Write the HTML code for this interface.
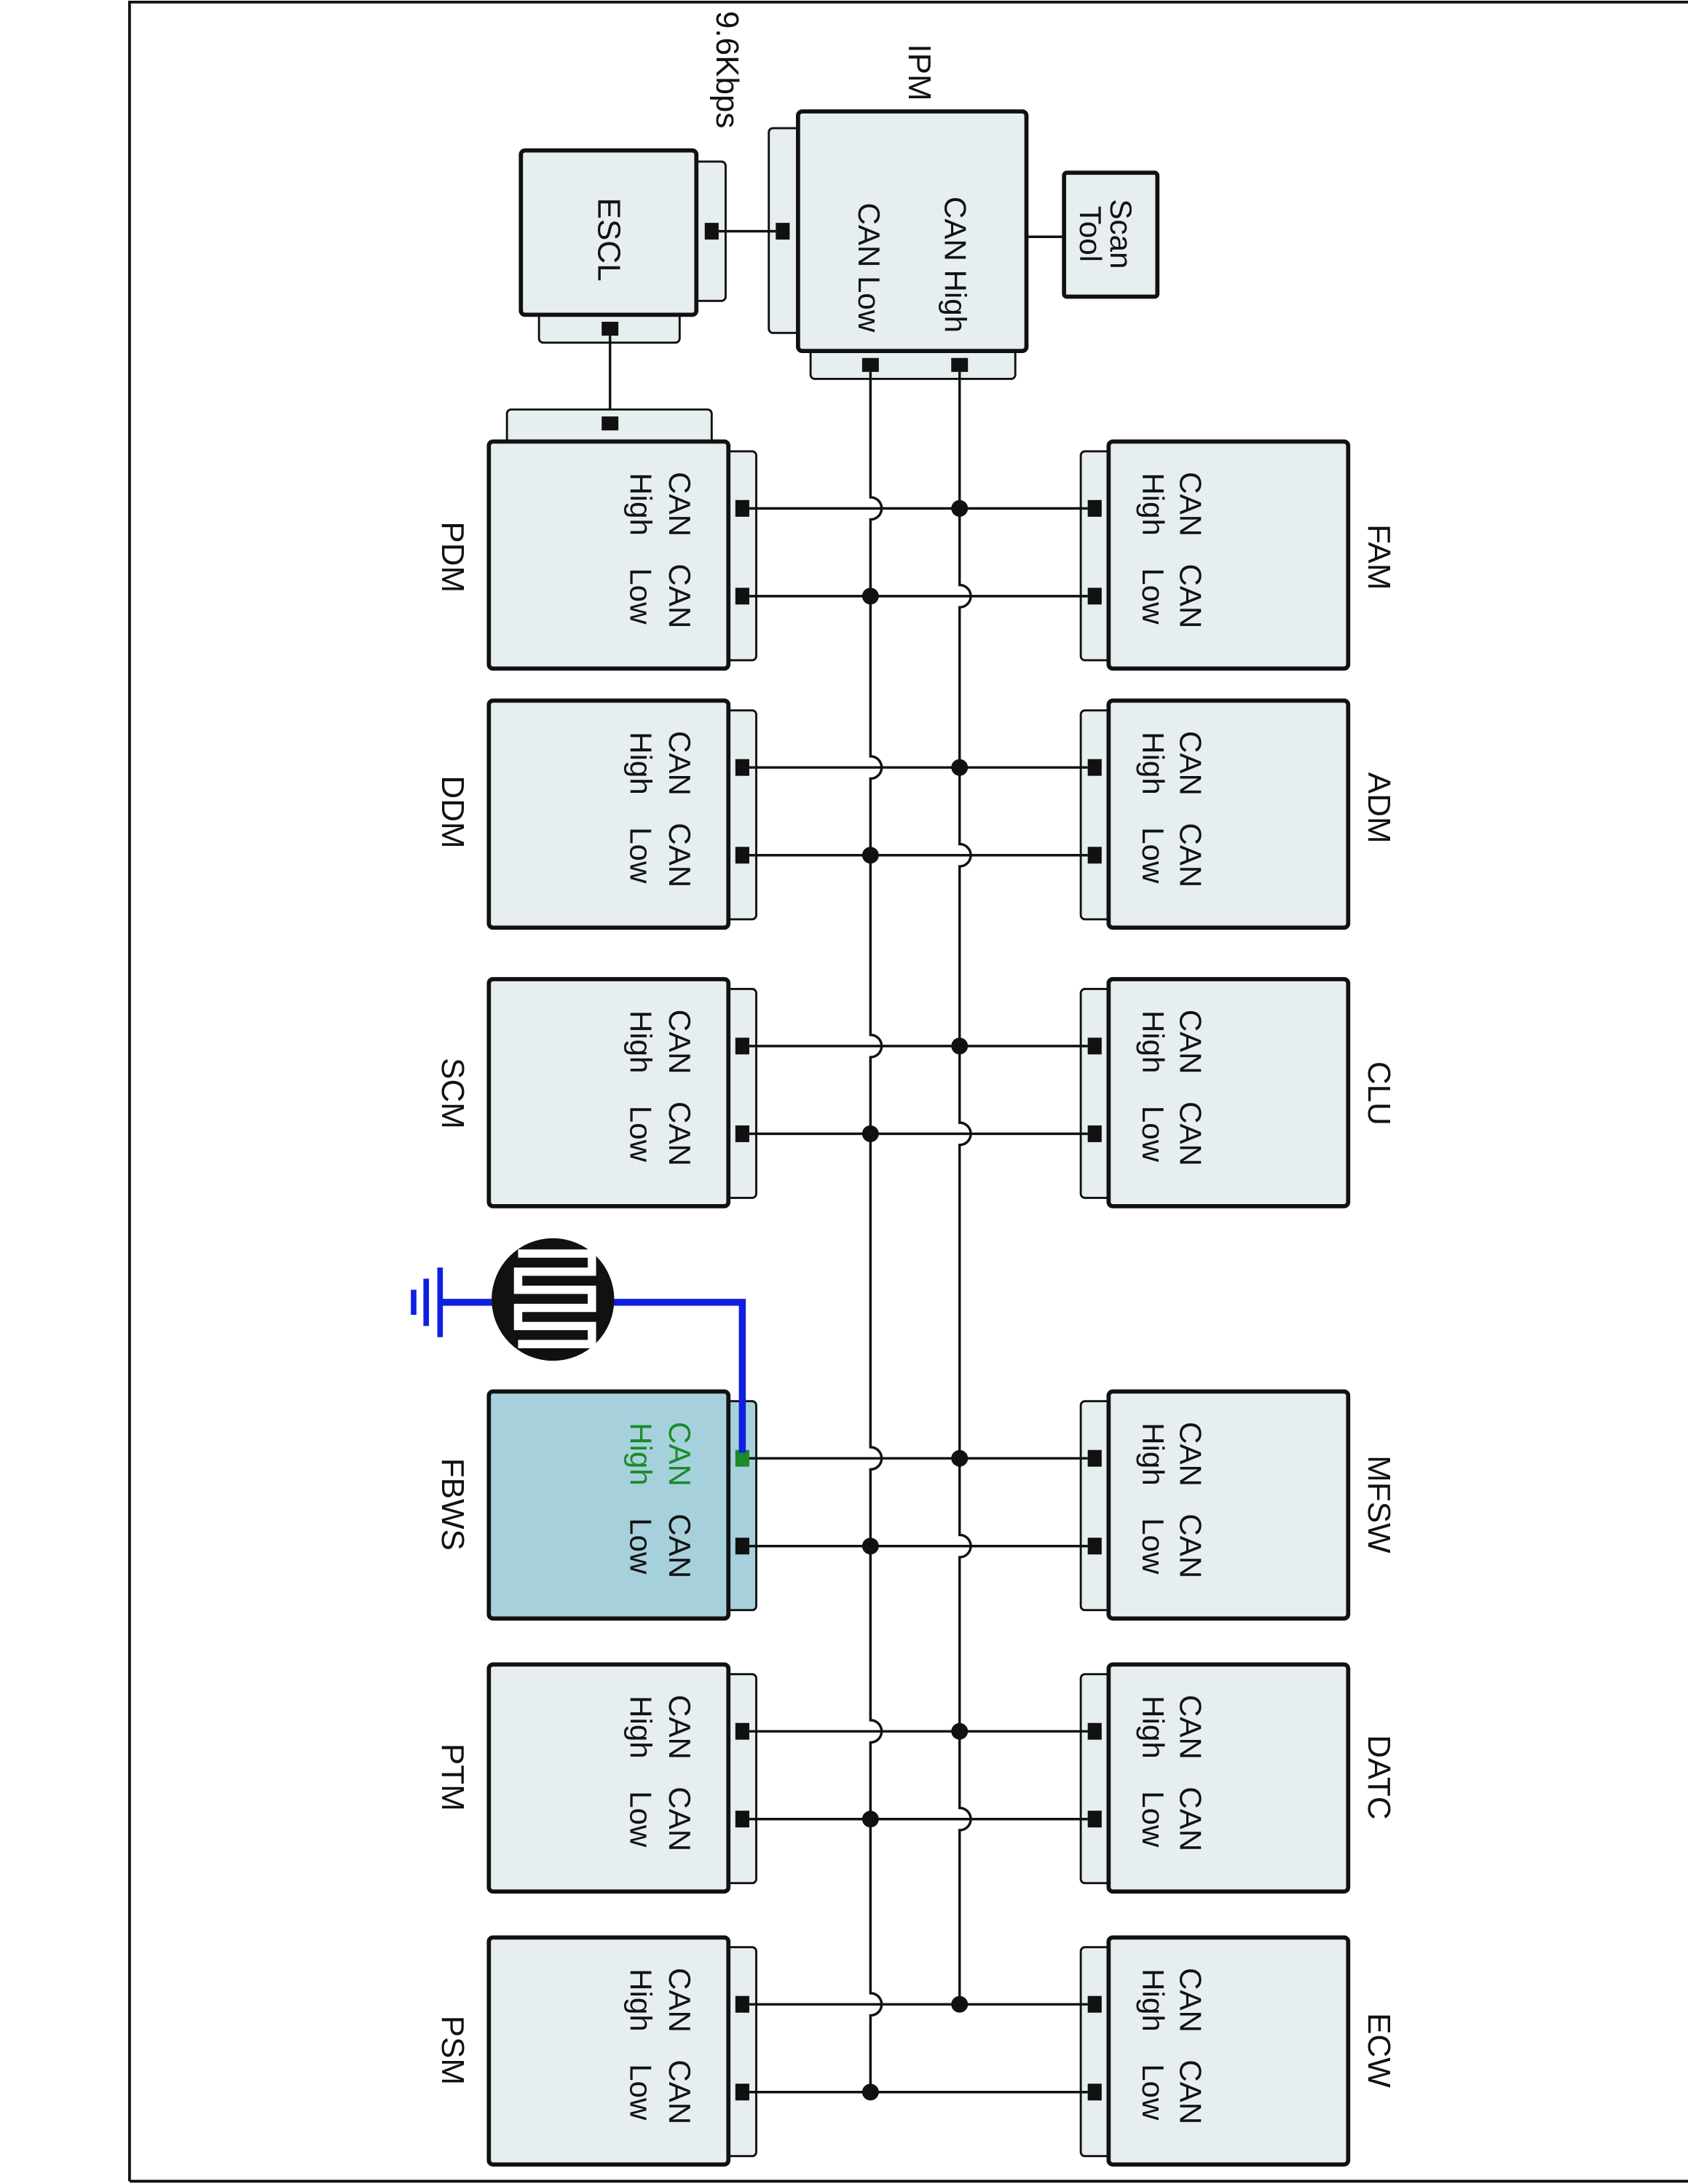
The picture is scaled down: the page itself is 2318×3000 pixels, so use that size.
<!DOCTYPE html>
<html><head><meta charset="utf-8"><style>
html,body{margin:0;padding:0;background:#fff}
svg{display:block}
text{font-family:"Liberation Sans",Arial,sans-serif;font-size:22px;fill:#111}
.m{fill:#e6eef0;stroke:#111;stroke-width:3}
.t{fill:#e6eef0;stroke:#111;stroke-width:1.5}
.c{fill:#111}
.w{stroke:#111;stroke-width:1.8;fill:none}
.n{font-size:23px}
</style></head><body>
<svg width="2318" height="3000" viewBox="0 0 1212 1568" preserveAspectRatio="none" xmlns="http://www.w3.org/2000/svg">
<rect x="0" y="0" width="1212" height="1568" fill="#fff"/>
<path d="M93 1566 V1.5 H1212" fill="none" stroke="#111" stroke-width="2"/>
<line x1="93" y1="1566" x2="1212" y2="1566" stroke="#111" stroke-width="2"/>

<rect class="t" x="552" y="92" width="24" height="147" rx="3"/>
<rect class="t" x="582" y="248" width="147" height="24" rx="3"/>
<rect class="m" x="573" y="80" width="164" height="172" rx="3"/>
<rect class="c" x="557" y="160" width="10" height="12"/>
<rect class="c" x="619" y="257" width="12" height="10"/>
<rect class="c" x="683" y="257" width="12" height="10"/>
<text transform="rotate(90 686 190)" x="686" y="190" text-anchor="middle" dominant-baseline="central">CAN High</text>
<text transform="rotate(90 624 192)" x="624" y="192" text-anchor="middle" dominant-baseline="central">CAN Low</text>
<text class="n" transform="rotate(90 660 52)" x="660" y="52" text-anchor="middle" dominant-baseline="central">IPM</text>
<text class="n" transform="rotate(90 522 50)" x="522" y="50" text-anchor="middle" dominant-baseline="central">9.6Kbps</text>
<line class="w" x1="737" y1="170" x2="764" y2="170"/>
<rect class="m" x="764" y="124" width="67" height="89" rx="2"/>
<text transform="rotate(90 805 168)" x="805" y="168" text-anchor="middle" dominant-baseline="central">Scan</text>
<text transform="rotate(90 783 168)" x="783" y="168" text-anchor="middle" dominant-baseline="central">Tool</text>
<rect class="t" x="496" y="116" width="25" height="100" rx="3"/>
<rect class="t" x="387" y="222" width="101" height="24" rx="3"/>
<rect class="m" x="374" y="108" width="126" height="118" rx="3"/>
<rect class="c" x="506" y="160" width="10" height="12"/>
<rect class="c" x="432" y="231" width="12" height="10"/>
<line class="w" x1="516" y1="166" x2="557" y2="166"/>
<line class="w" x1="438" y1="241" x2="438" y2="300"/>
<text class="n" transform="rotate(90 437 172)" x="437" y="172" text-anchor="middle" dominant-baseline="central">ESCL</text>
<rect class="t" x="364" y="294" width="147" height="27" rx="3"/>
<rect class="c" x="432" y="299" width="12" height="10"/>

<path class="w" d="M625 267 V357 A8 8 0 0 1 625 373 V543 A8 8 0 0 1 625 559 V743 A8 8 0 0 1 625 759 V1039 A8 8 0 0 1 625 1055 V1235 A8 8 0 0 1 625 1251 V1431 A8 8 0 0 1 625 1447 V1505"/>
<path class="w" d="M689 267 V420 A8 8 0 0 1 689 436 V606 A8 8 0 0 1 689 622 V806 A8 8 0 0 1 689 822 V1102 A8 8 0 0 1 689 1118 V1298 A8 8 0 0 1 689 1314 V1440"/>

<g>
<rect class="t" x="519" y="324" width="24" height="150" rx="3"/>
<rect class="m" x="351" y="317" width="172" height="163" rx="3"/>
<rect class="c" x="528" y="359" width="10" height="12"/><rect class="c" x="528" y="422" width="10" height="12"/>
<text transform="rotate(90 488 362)" x="488" y="362" text-anchor="middle" dominant-baseline="central">CAN</text>
<text transform="rotate(90 460 362)" x="460" y="362" text-anchor="middle" dominant-baseline="central">High</text>
<text transform="rotate(90 488 428)" x="488" y="428" text-anchor="middle" dominant-baseline="central">CAN</text>
<text transform="rotate(90 460 428)" x="460" y="428" text-anchor="middle" dominant-baseline="central">Low</text>
<text class="n" transform="rotate(90 325 400)" x="325" y="400" text-anchor="middle" dominant-baseline="central">PDM</text>
</g>
<g>
<rect class="t" x="519" y="510" width="24" height="150" rx="3"/>
<rect class="m" x="351" y="503" width="172" height="163" rx="3"/>
<rect class="c" x="528" y="545" width="10" height="12"/><rect class="c" x="528" y="608" width="10" height="12"/>
<text transform="rotate(90 488 548)" x="488" y="548" text-anchor="middle" dominant-baseline="central">CAN</text>
<text transform="rotate(90 460 548)" x="460" y="548" text-anchor="middle" dominant-baseline="central">High</text>
<text transform="rotate(90 488 614)" x="488" y="614" text-anchor="middle" dominant-baseline="central">CAN</text>
<text transform="rotate(90 460 614)" x="460" y="614" text-anchor="middle" dominant-baseline="central">Low</text>
<text class="n" transform="rotate(90 325 583)" x="325" y="583" text-anchor="middle" dominant-baseline="central">DDM</text>
</g>
<g>
<rect class="t" x="519" y="710" width="24" height="150" rx="3"/>
<rect class="m" x="351" y="703" width="172" height="163" rx="3"/>
<rect class="c" x="528" y="745" width="10" height="12"/><rect class="c" x="528" y="808" width="10" height="12"/>
<text transform="rotate(90 488 748)" x="488" y="748" text-anchor="middle" dominant-baseline="central">CAN</text>
<text transform="rotate(90 460 748)" x="460" y="748" text-anchor="middle" dominant-baseline="central">High</text>
<text transform="rotate(90 488 814)" x="488" y="814" text-anchor="middle" dominant-baseline="central">CAN</text>
<text transform="rotate(90 460 814)" x="460" y="814" text-anchor="middle" dominant-baseline="central">Low</text>
<text class="n" transform="rotate(90 325 785)" x="325" y="785" text-anchor="middle" dominant-baseline="central">SCM</text>
</g>
<g>
<rect class="t" x="519" y="1006" width="24" height="150" rx="3" style="fill:#a6d1dc"/>
<rect class="m" x="351" y="999" width="172" height="163" rx="3" style="fill:#a6d1dc"/>
<rect x="528" y="1041" width="10" height="12" fill="#1a8a2a"/><rect class="c" x="528" y="1104" width="10" height="12"/>
<text style="fill:#1a8a2a" transform="rotate(90 488 1044)" x="488" y="1044" text-anchor="middle" dominant-baseline="central">CAN</text>
<text style="fill:#1a8a2a" transform="rotate(90 460 1044)" x="460" y="1044" text-anchor="middle" dominant-baseline="central">High</text>
<text transform="rotate(90 488 1110)" x="488" y="1110" text-anchor="middle" dominant-baseline="central">CAN</text>
<text transform="rotate(90 460 1110)" x="460" y="1110" text-anchor="middle" dominant-baseline="central">Low</text>
<text class="n" transform="rotate(90 325 1080)" x="325" y="1080" text-anchor="middle" dominant-baseline="central">FBWS</text>
</g>
<g>
<rect class="t" x="519" y="1202" width="24" height="150" rx="3"/>
<rect class="m" x="351" y="1195" width="172" height="163" rx="3"/>
<rect class="c" x="528" y="1237" width="10" height="12"/><rect class="c" x="528" y="1300" width="10" height="12"/>
<text transform="rotate(90 488 1240)" x="488" y="1240" text-anchor="middle" dominant-baseline="central">CAN</text>
<text transform="rotate(90 460 1240)" x="460" y="1240" text-anchor="middle" dominant-baseline="central">High</text>
<text transform="rotate(90 488 1306)" x="488" y="1306" text-anchor="middle" dominant-baseline="central">CAN</text>
<text transform="rotate(90 460 1306)" x="460" y="1306" text-anchor="middle" dominant-baseline="central">Low</text>
<text class="n" transform="rotate(90 325 1276)" x="325" y="1276" text-anchor="middle" dominant-baseline="central">PTM</text>
</g>
<g>
<rect class="t" x="519" y="1398" width="24" height="150" rx="3"/>
<rect class="m" x="351" y="1391" width="172" height="163" rx="3"/>
<rect class="c" x="528" y="1433" width="10" height="12"/><rect class="c" x="528" y="1496" width="10" height="12"/>
<text transform="rotate(90 488 1436)" x="488" y="1436" text-anchor="middle" dominant-baseline="central">CAN</text>
<text transform="rotate(90 460 1436)" x="460" y="1436" text-anchor="middle" dominant-baseline="central">High</text>
<text transform="rotate(90 488 1502)" x="488" y="1502" text-anchor="middle" dominant-baseline="central">CAN</text>
<text transform="rotate(90 460 1502)" x="460" y="1502" text-anchor="middle" dominant-baseline="central">Low</text>
<text class="n" transform="rotate(90 325 1472)" x="325" y="1472" text-anchor="middle" dominant-baseline="central">PSM</text>
</g>

<g>
<rect class="t" x="776" y="324" width="24" height="150" rx="3"/>
<rect class="m" x="796" y="317" width="172" height="163" rx="3"/>
<rect class="c" x="781" y="359" width="10" height="12"/><rect class="c" x="781" y="422" width="10" height="12"/>
<text transform="rotate(90 855 362)" x="855" y="362" text-anchor="middle" dominant-baseline="central">CAN</text>
<text transform="rotate(90 828 362)" x="828" y="362" text-anchor="middle" dominant-baseline="central">High</text>
<text transform="rotate(90 855 428)" x="855" y="428" text-anchor="middle" dominant-baseline="central">CAN</text>
<text transform="rotate(90 828 428)" x="828" y="428" text-anchor="middle" dominant-baseline="central">Low</text>
<text class="n" transform="rotate(90 990 400)" x="990" y="400" text-anchor="middle" dominant-baseline="central">FAM</text>
</g>
<g>
<rect class="t" x="776" y="510" width="24" height="150" rx="3"/>
<rect class="m" x="796" y="503" width="172" height="163" rx="3"/>
<rect class="c" x="781" y="545" width="10" height="12"/><rect class="c" x="781" y="608" width="10" height="12"/>
<text transform="rotate(90 855 548)" x="855" y="548" text-anchor="middle" dominant-baseline="central">CAN</text>
<text transform="rotate(90 828 548)" x="828" y="548" text-anchor="middle" dominant-baseline="central">High</text>
<text transform="rotate(90 855 614)" x="855" y="614" text-anchor="middle" dominant-baseline="central">CAN</text>
<text transform="rotate(90 828 614)" x="828" y="614" text-anchor="middle" dominant-baseline="central">Low</text>
<text class="n" transform="rotate(90 990 580)" x="990" y="580" text-anchor="middle" dominant-baseline="central">ADM</text>
</g>
<g>
<rect class="t" x="776" y="710" width="24" height="150" rx="3"/>
<rect class="m" x="796" y="703" width="172" height="163" rx="3"/>
<rect class="c" x="781" y="745" width="10" height="12"/><rect class="c" x="781" y="808" width="10" height="12"/>
<text transform="rotate(90 855 748)" x="855" y="748" text-anchor="middle" dominant-baseline="central">CAN</text>
<text transform="rotate(90 828 748)" x="828" y="748" text-anchor="middle" dominant-baseline="central">High</text>
<text transform="rotate(90 855 814)" x="855" y="814" text-anchor="middle" dominant-baseline="central">CAN</text>
<text transform="rotate(90 828 814)" x="828" y="814" text-anchor="middle" dominant-baseline="central">Low</text>
<text class="n" transform="rotate(90 990 785)" x="990" y="785" text-anchor="middle" dominant-baseline="central">CLU</text>
</g>
<g>
<rect class="t" x="776" y="1006" width="24" height="150" rx="3"/>
<rect class="m" x="796" y="999" width="172" height="163" rx="3"/>
<rect class="c" x="781" y="1041" width="10" height="12"/><rect class="c" x="781" y="1104" width="10" height="12"/>
<text transform="rotate(90 855 1044)" x="855" y="1044" text-anchor="middle" dominant-baseline="central">CAN</text>
<text transform="rotate(90 828 1044)" x="828" y="1044" text-anchor="middle" dominant-baseline="central">High</text>
<text transform="rotate(90 855 1110)" x="855" y="1110" text-anchor="middle" dominant-baseline="central">CAN</text>
<text transform="rotate(90 828 1110)" x="828" y="1110" text-anchor="middle" dominant-baseline="central">Low</text>
<text class="n" transform="rotate(90 990 1080)" x="990" y="1080" text-anchor="middle" dominant-baseline="central">MFSW</text>
</g>
<g>
<rect class="t" x="776" y="1202" width="24" height="150" rx="3"/>
<rect class="m" x="796" y="1195" width="172" height="163" rx="3"/>
<rect class="c" x="781" y="1237" width="10" height="12"/><rect class="c" x="781" y="1300" width="10" height="12"/>
<text transform="rotate(90 855 1240)" x="855" y="1240" text-anchor="middle" dominant-baseline="central">CAN</text>
<text transform="rotate(90 828 1240)" x="828" y="1240" text-anchor="middle" dominant-baseline="central">High</text>
<text transform="rotate(90 855 1306)" x="855" y="1306" text-anchor="middle" dominant-baseline="central">CAN</text>
<text transform="rotate(90 828 1306)" x="828" y="1306" text-anchor="middle" dominant-baseline="central">Low</text>
<text class="n" transform="rotate(90 990 1276)" x="990" y="1276" text-anchor="middle" dominant-baseline="central">DATC</text>
</g>
<g>
<rect class="t" x="776" y="1398" width="24" height="150" rx="3"/>
<rect class="m" x="796" y="1391" width="172" height="163" rx="3"/>
<rect class="c" x="781" y="1433" width="10" height="12"/><rect class="c" x="781" y="1496" width="10" height="12"/>
<text transform="rotate(90 855 1436)" x="855" y="1436" text-anchor="middle" dominant-baseline="central">CAN</text>
<text transform="rotate(90 828 1436)" x="828" y="1436" text-anchor="middle" dominant-baseline="central">High</text>
<text transform="rotate(90 855 1502)" x="855" y="1502" text-anchor="middle" dominant-baseline="central">CAN</text>
<text transform="rotate(90 828 1502)" x="828" y="1502" text-anchor="middle" dominant-baseline="central">Low</text>
<text class="n" transform="rotate(90 990 1472)" x="990" y="1472" text-anchor="middle" dominant-baseline="central">ECW</text>
</g>

<g class="w">
<line x1="538" y1="365" x2="781" y2="365"/><line x1="538" y1="428" x2="781" y2="428"/>
<line x1="538" y1="551" x2="781" y2="551"/><line x1="538" y1="614" x2="781" y2="614"/>
<line x1="538" y1="751" x2="781" y2="751"/><line x1="538" y1="814" x2="781" y2="814"/>
<line x1="538" y1="1047" x2="781" y2="1047"/><line x1="538" y1="1110" x2="781" y2="1110"/>
<line x1="538" y1="1243" x2="781" y2="1243"/><line x1="538" y1="1306" x2="781" y2="1306"/>
<line x1="538" y1="1439" x2="781" y2="1439"/><line x1="538" y1="1502" x2="781" y2="1502"/>
</g>
<g class="c">
<circle cx="689" cy="365" r="6"/><circle cx="625" cy="428" r="6"/>
<circle cx="689" cy="551" r="6"/><circle cx="625" cy="614" r="6"/>
<circle cx="689" cy="751" r="6"/><circle cx="625" cy="814" r="6"/>
<circle cx="689" cy="1047" r="6"/><circle cx="625" cy="1110" r="6"/>
<circle cx="689" cy="1243" r="6"/><circle cx="625" cy="1306" r="6"/>
<circle cx="689" cy="1439" r="6"/><circle cx="625" cy="1502" r="6"/>
</g>

<path d="M533 1043 V935 H316" fill="none" stroke="#1020e0" stroke-width="5"/>
<line x1="316" y1="910" x2="316" y2="960" stroke="#1020e0" stroke-width="4"/>
<line x1="306" y1="918" x2="306" y2="952" stroke="#1020e0" stroke-width="4"/>
<line x1="297" y1="926" x2="297" y2="944" stroke="#1020e0" stroke-width="4"/>
<ellipse cx="397" cy="933" rx="44" ry="44" fill="#111"/>
<path d="M372 900 H425 V913 H372 V926 H425 V939 H372 V952 H425 V965 H372" fill="none" stroke="#fff" stroke-width="6"/>
</svg>
</body></html>
